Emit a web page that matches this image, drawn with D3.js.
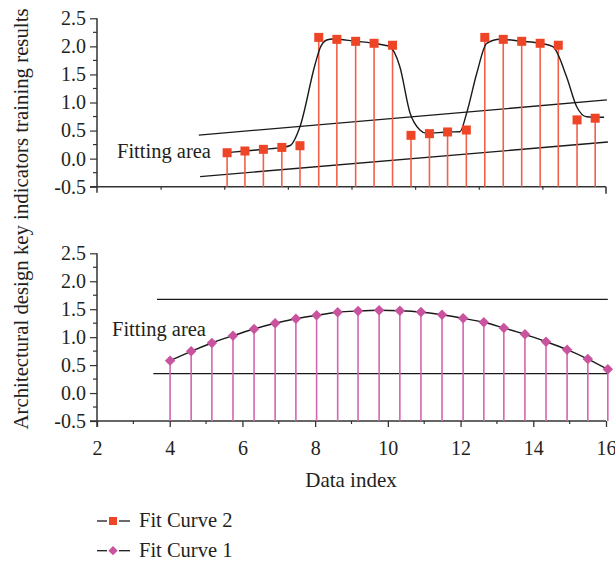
<!DOCTYPE html>
<html><head><meta charset="utf-8">
<script src="https://cdn.jsdelivr.net/npm/d3@7"></script>
<style>
body{margin:0;background:#fff;}
svg text{font-family:"Liberation Serif","Times New Roman",serif;fill:#231f20;}
</style></head>
<body><svg id="c" width="615" height="565"></svg>
<script>
// ---------- data ----------
const topX = [4.09,4.65,5.23,5.81,6.38,6.97,7.54,8.13,8.71,9.29,9.87,10.45,11.02,11.61,12.19,12.77,13.35,13.93,14.50,15.09,15.66];
const topY = [0.105,0.136,0.166,0.20,0.23,2.16,2.125,2.09,2.055,2.02,0.415,0.445,0.475,0.51,2.16,2.125,2.09,2.055,2.02,0.69,0.72];
const topFitX = [4.09,4.65,5.23,5.82,6.07,6.38,6.85,7.01,7.22,7.42,8.13,8.71,9.05,9.21,9.52,9.84,10.15,10.36,11.02,11.41,11.62,11.94,12.25,12.67,13.35,13.93,14.33,14.76,15.08,15.39,15.94];
const topFitY = [0.106,0.136,0.166,0.20,0.234,0.569,1.668,1.966,2.114,2.132,2.09,2.055,2.02,1.994,1.638,0.813,0.51,0.451,0.475,0.48,0.813,1.526,2.055,2.126,2.09,2.055,1.994,1.46,0.925,0.747,0.736];
const topBandUpper = [[3.2,0.42],[16.03,1.045]];
const topBandLower = [[3.24,-0.32],[16.06,0.296]];

const botX = [4.01,4.59,5.16,5.74,6.32,6.90,7.47,8.04,8.62,9.18,9.76,10.33,10.91,11.49,12.07,12.64,13.19,13.77,14.35,14.93,15.50,16.05];
const botY = [0.58,0.747,0.895,1.026,1.146,1.248,1.33,1.39,1.445,1.468,1.48,1.473,1.45,1.40,1.337,1.266,1.164,1.051,0.919,0.776,0.609,0.425];
const botBandUpper = [[3.65,1.677],[16.05,1.677]];
const botBandLower = [[3.55,0.346],[16.05,0.346]];

const yTicks = [-0.5,0,0.5,1.0,1.5,2.0,2.5];
const xTicks = [2,4,6,8,10,12,14,16];
const seriesNames = ["Fit Curve 2","Fit Curve 1"];
const yLabel = "Architectural design key indicators training results";
const xLabel = "Data index";
const areaLabel = "Fitting area";

// ---------- setup ----------
const svg = d3.select("#c");
const axisCol = "#333";
const orange = "#ef4527", orangeStem = "#f2604a";
const pink = "#c9539e", pinkStem = "#d465b0";
const FS = 20.5;

const tx = d3.scaleLinear().domain([0,16]).range([97,606]);
const ty = d3.scaleLinear().domain([-0.5,2.5]).range([186.7,18.3]);
const bx = d3.scaleLinear().domain([2,16]).range([97,606]);
const by = d3.scaleLinear().domain([-0.5,2.5]).range([421,253.3]);

function yAxis(y, x0){
  const g = svg.append("g").attr("transform",`translate(${x0},0)`);
  const ax = d3.axisLeft(y).tickValues(yTicks).tickFormat(d=>d.toFixed(1)).tickSize(7).tickPadding(4);
  g.call(ax);
  g.select(".domain").remove();
  g.selectAll("line").attr("stroke",axisCol).attr("stroke-width",1.2);
  g.selectAll("text").attr("font-size",20).attr("fill","#231f20").style("font-family","'Liberation Serif',serif");
  const minor = d3.range(-0.25,2.5,0.5);
  g.selectAll(".mn").data(minor).enter().append("line")
   .attr("x1",-4).attr("x2",0).attr("y1",d=>y(d)).attr("y2",d=>y(d))
   .attr("stroke",axisCol).attr("stroke-width",1.2);
  g.append("line").attr("x1",0).attr("x2",0).attr("y1",y(2.5)).attr("y2",y(-0.5)+6)
   .attr("stroke",axisCol).attr("stroke-width",1.5);
}
yAxis(ty,97); yAxis(by,97);

// top x axis (no labels)
{
  const g = svg.append("g").attr("transform",`translate(0,${ty(-0.5)})`);
  g.append("line").attr("x1",90).attr("x2",606).attr("y1",0).attr("y2",0).attr("stroke",axisCol).attr("stroke-width",1.5);
  const ax = d3.axisBottom(tx).tickValues([2,4,6,8,10,12,14]).tickSize(3).tickFormat("");
  const a = svg.append("g").attr("transform",`translate(0,${ty(-0.5)})`).call(ax);
  a.select(".domain").remove();
  a.selectAll("line").attr("stroke",axisCol).attr("stroke-width",1.2);
  g.append("line").attr("x1",tx(16)).attr("x2",tx(16)).attr("y1",0).attr("y2",7).attr("stroke",axisCol).attr("stroke-width",1.5);
}
// bottom x axis
{
  const y0 = by(-0.5);
  const a = svg.append("g").attr("transform",`translate(0,${y0})`)
    .call(d3.axisBottom(bx).tickValues(xTicks).tickSize(6).tickPadding(14).tickFormat(d3.format("d")));
  a.select(".domain").remove();
  a.selectAll("line").attr("stroke",axisCol).attr("stroke-width",1.3);
  a.selectAll("text").attr("font-size",20).attr("fill","#231f20").style("font-family","'Liberation Serif',serif");
  svg.append("g").attr("transform",`translate(0,${y0})`).selectAll("line").data(d3.range(3,16,2)).enter().append("line")
    .attr("x1",d=>bx(d)).attr("x2",d=>bx(d)).attr("y1",0).attr("y2",3).attr("stroke",axisCol).attr("stroke-width",1.2);
  svg.append("line").attr("x1",90).attr("x2",606).attr("y1",y0).attr("y2",y0).attr("stroke",axisCol).attr("stroke-width",1.5);
}

// ---------- top chart ----------
const line = d3.line();
svg.append("path").attr("d",line(topBandUpper.map(d=>[tx(d[0]),ty(d[1])]))).attr("stroke","#1a1a1a").attr("stroke-width",1.3).attr("fill","none");
svg.append("path").attr("d",line(topBandLower.map(d=>[tx(d[0]),ty(d[1])]))).attr("stroke","#1a1a1a").attr("stroke-width",1.3).attr("fill","none");
svg.selectAll(".ts").data(topX).enter().append("line")
  .attr("x1",d=>tx(d)).attr("x2",d=>tx(d)).attr("y1",(d,i)=>ty(topY[i])).attr("y2",ty(-0.5))
  .attr("stroke",orangeStem).attr("stroke-width",1.6);
svg.append("path")
  .attr("d",d3.line().x(d=>tx(d[0])).y(d=>ty(d[1])).curve(d3.curveMonotoneX)(topFitX.map((x,i)=>[x,topFitY[i]])))
  .attr("stroke","#1a1a1a").attr("stroke-width",1.4).attr("fill","none");
svg.selectAll(".tm").data(topX).enter().append("rect")
  .attr("x",d=>tx(d)-4.5).attr("y",(d,i)=>ty(topY[i])-4.5).attr("width",9).attr("height",9)
  .attr("fill",orange);
svg.append("text").attr("x",117).attr("y",158).attr("font-size",FS).text(areaLabel);

// ---------- bottom chart ----------
svg.append("path").attr("d",line(botBandUpper.map(d=>[bx(d[0]),by(d[1])]))).attr("stroke","#1a1a1a").attr("stroke-width",1.3).attr("fill","none");
svg.append("path").attr("d",line(botBandLower.map(d=>[bx(d[0]),by(d[1])]))).attr("stroke","#1a1a1a").attr("stroke-width",1.3).attr("fill","none");
svg.selectAll(".bs").data(botX).enter().append("line")
  .attr("x1",d=>bx(d)).attr("x2",d=>bx(d)).attr("y1",(d,i)=>by(botY[i])).attr("y2",by(-0.5))
  .attr("stroke",pinkStem).attr("stroke-width",1.6);
svg.append("path")
  .attr("d",d3.line().x(d=>bx(d[0])).y(d=>by(d[1])).curve(d3.curveMonotoneX)(botX.map((x,i)=>[x,botY[i]])))
  .attr("stroke","#1a1a1a").attr("stroke-width",1.4).attr("fill","none");
const dia = d3.symbol().type(d3.symbolDiamond2).size(70);
svg.selectAll(".bm").data(botX).enter().append("path")
  .attr("d",dia).attr("transform",(d,i)=>`translate(${bx(d)},${by(botY[i])})`)
  .attr("fill",pink);
svg.append("text").attr("x",112).attr("y",336).attr("font-size",FS).text(areaLabel);

// ---------- labels ----------
svg.append("text").attr("transform","translate(28,219) rotate(-90)").attr("text-anchor","middle").attr("font-size",20.8).text(yLabel);
svg.append("text").attr("x",351).attr("y",487).attr("text-anchor","middle").attr("font-size",21).text(xLabel);

// ---------- legend ----------
const leg = svg.append("g");
seriesNames.forEach((n,i)=>{
  const yy = 521 + i*29.7;
  leg.append("line").attr("x1",97).attr("x2",107).attr("y1",yy).attr("y2",yy).attr("stroke","#1a1a1a").attr("stroke-width",1.3);
  leg.append("line").attr("x1",119).attr("x2",130).attr("y1",yy).attr("y2",yy).attr("stroke","#1a1a1a").attr("stroke-width",1.3);
  if(i===0) leg.append("rect").attr("x",109).attr("y",yy-4).attr("width",8).attr("height",8).attr("fill",orange);
  else leg.append("path").attr("d",d3.symbol().type(d3.symbolDiamond2).size(55)).attr("transform",`translate(113,${yy})`).attr("fill",pink);
  leg.append("text").attr("x",139).attr("y",yy+6).attr("font-size",FS).text(n);
});
</script></body></html>
